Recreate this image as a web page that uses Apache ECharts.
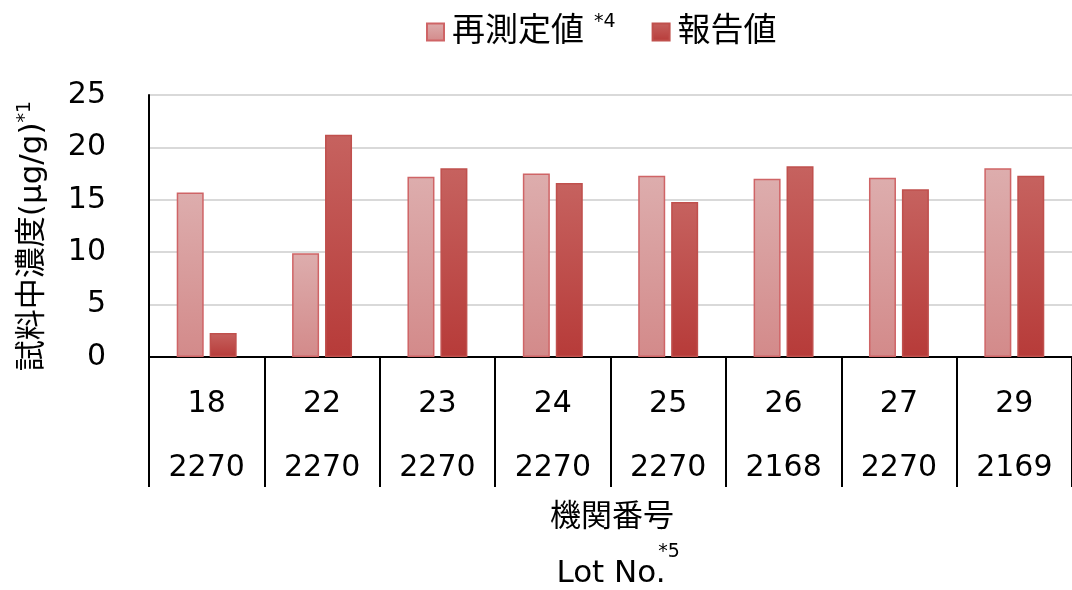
<!DOCTYPE html>
<html>
<head>
<meta charset="utf-8">
<script src="https://cdn.jsdelivr.net/npm/echarts@6/dist/echarts.min.js"></script>
<style>
  html, body { margin: 0; padding: 0; background: #fff; }
  #chart { width: 1072px; height: 590px; }
</style>
</head>
<body>
<div id="chart"></div>
<script>
// Laboratory numbers and lot numbers (two-row category labels)
const labIds = ['18', '22', '23', '24', '25', '26', '27', '29'];
const lotNos = ['2270', '2270', '2270', '2270', '2270', '2168', '2270', '2169'];

// Concentration in sample (µg/g)
const remeasured = [15.7, 9.9, 17.2, 17.5, 17.3, 17.0, 17.1, 18.0];
const reported = [2.3, 21.2, 18.0, 16.6, 14.8, 18.2, 16.0, 17.3];

const yTicks = { min: 0, max: 25, interval: 5 };

// Latin glyphs from DejaVu Sans, CJK glyphs fall back to Noto Sans CJK JP
const FONT = '"DejaVu Sans", "Noto Sans CJK JP", sans-serif';

const categories = labIds.map((id, i) => id + '\n' + lotNos[i]);

function grad(top, bottom) {
  return new echarts.graphic.LinearGradient(0, 0, 0, 1, [
    { offset: 0, color: top },
    { offset: 1, color: bottom }
  ]);
}

const chart = echarts.init(document.getElementById('chart'), null, { renderer: 'canvas' });

chart.setOption({
  animation: false,
  backgroundColor: '#ffffff',
  legend: {
    top: 8,
    left: 421,
    icon: 'rect',
    itemWidth: 17,
    itemHeight: 17,
    itemGap: 36,
    data: ['再測定値', '報告値'],
    formatter: function (name) {
      return name === '再測定値' ? '{m|再測定値}{s|*4}' : '{m|報告値}';
    },
    textStyle: {
      color: '#000',
      rich: {
        m: { fontFamily: FONT, fontSize: 33, color: '#000', lineHeight: 38, padding: [0, 0, 0, 3] },
        s: { fontFamily: FONT, fontSize: 19, color: '#000', verticalAlign: 'top', lineHeight: 19, padding: [0, 0, 16, 10] }
      }
    }
  },
  grid: {
    left: 149,
    right: 0,
    top: 95,
    bottom: 233,
    containLabel: false
  },
  xAxis: {
    type: 'category',
    data: categories,
    axisLine: { show: true, lineStyle: { color: '#000', width: 2 } },
    axisTick: {
      show: true,
      inside: false,
      length: 130,
      lineStyle: { color: '#000', width: 2 }
    },
    axisLabel: {
      margin: 15,
      interval: 0,
      formatter: function (v) {
        const p = v.split('\n');
        return '{a|' + p[0] + '}\n{a|' + p[1] + '}';
      },
      rich: {
        a: { fontFamily: FONT, fontSize: 30, color: '#000', lineHeight: 64 }
      }
    },
    splitLine: { show: false }
  },
  yAxis: {
    type: 'value',
    min: yTicks.min,
    max: yTicks.max,
    interval: yTicks.interval,
    axisLine: { show: true, lineStyle: { color: '#000', width: 2 } },
    axisTick: { show: false },
    axisLabel: {
      margin: 43,
      fontFamily: FONT,
      fontSize: 30,
      color: '#000'
    },
    splitLine: { show: true, lineStyle: { color: '#d9d9d9', width: 2 } }
  },
  series: [
    {
      name: '再測定値',
      type: 'bar',
      data: remeasured,
      barWidth: 27,
      barGap: '22%',
      itemStyle: {
        color: grad('#ddadad', '#d38a8a'),
        borderColor: '#cf6466',
        borderWidth: 1.5
      }
    },
    {
      name: '報告値',
      type: 'bar',
      data: reported,
      barWidth: 27,
      barGap: '22%',
      itemStyle: {
        color: grad('#c6625f', '#b73b39'),
        borderColor: '#c0504d',
        borderWidth: 1.5
      }
    }
  ],
  graphic: [
    {
      type: 'text',
      x: 33,
      y: 236,
      rotation: Math.PI / 2,
      style: {
        text: '{m|試料中濃度(μg/g)}{s|*1}',
        align: 'center',
        verticalAlign: 'middle',
        fill: '#000',
        rich: {
          m: { fontFamily: FONT, fontSize: 31, fill: '#000', lineHeight: 34 },
          s: { fontFamily: FONT, fontSize: 19, fill: '#000', verticalAlign: 'top', lineHeight: 19, padding: [0, 0, 14, 0] }
        }
      }
    },
    {
      type: 'text',
      x: 612,
      y: 518,
      style: {
        text: '機関番号',
        align: 'center',
        verticalAlign: 'middle',
        fontFamily: FONT,
        fontSize: 31,
        fill: '#000'
      }
    },
    {
      type: 'text',
      x: 611,
      y: 574,
      style: {
        text: 'Lot No.',
        align: 'center',
        verticalAlign: 'middle',
        fontFamily: FONT,
        fontSize: 31,
        fill: '#000'
      }
    },
    {
      type: 'text',
      x: 669,
      y: 552,
      style: {
        text: '*5',
        align: 'center',
        verticalAlign: 'middle',
        fontFamily: FONT,
        fontSize: 19,
        fill: '#000'
      }
    }
  ]
});
</script>
</body>
</html>
